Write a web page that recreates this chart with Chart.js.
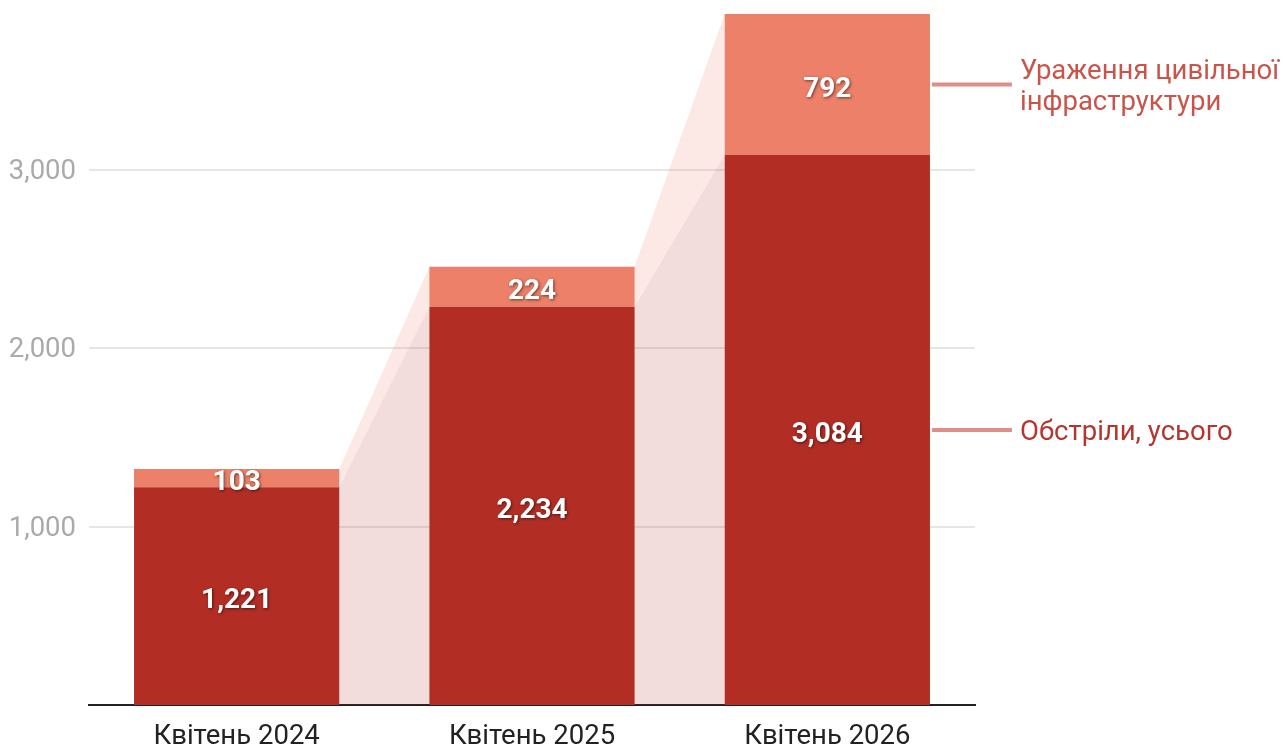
<!DOCTYPE html>
<html>
<head>
<meta charset="utf-8">
<script src="https://cdn.jsdelivr.net/npm/chart.js@4.4.1/dist/chart.umd.min.js"></script>
<style>
  html, body { margin: 0; padding: 0; background: #fff; }
  #wrap { width: 1286px; height: 745px; }
</style>
</head>
<body>
<div id="wrap"><canvas id="chart" width="1286" height="745"></canvas></div>
<script>
// Shelling of a region, April of each year: total vs. civilian infrastructure hits
var CATEGORIES = ['Квітень 2024', 'Квітень 2025', 'Квітень 2026'];
var SHELLING = [1221, 2234, 3084];
var INFRA = [103, 224, 792];
var Y_TICKS = [1000, 2000, 3000];
var SERIES_LABELS = ['Обстріли, усього', ['Ураження цивільної', 'інфраструктури']];

var DARK = '#b22e25';
var SALMON = '#ec8068';
var FONT = 'Roboto, "Noto Sans", sans-serif';

// translucent bands joining neighbouring bars, drawn under the bars
var connectors = {
  id: 'connectors',
  beforeDatasetsDraw: function(chart) {
    var ctx = chart.ctx;
    var y = chart.scales.y;
    var m0 = chart.getDatasetMeta(0).data;
    var m1 = chart.getDatasetMeta(1).data;
    ctx.save();
    for (var i = 0; i < m0.length - 1; i++) {
      var a = m0[i], b = m0[i + 1];
      var ax = a.x + a.width / 2, bx = b.x - b.width / 2;
      var base = y.getPixelForValue(0);
      // lower band
      ctx.fillStyle = 'rgba(178,46,37,0.16)';
      ctx.beginPath();
      ctx.moveTo(ax, base);
      ctx.lineTo(ax, m0[i].y);
      ctx.lineTo(bx, m0[i + 1].y);
      ctx.lineTo(bx, base);
      ctx.closePath();
      ctx.fill();
      // upper band
      ctx.fillStyle = 'rgba(236,128,104,0.18)';
      ctx.beginPath();
      ctx.moveTo(ax, m0[i].y);
      ctx.lineTo(ax, m1[i].y);
      ctx.lineTo(bx, m1[i + 1].y);
      ctx.lineTo(bx, m0[i + 1].y);
      ctx.closePath();
      ctx.fill();
    }
    ctx.restore();
  }
};

// values inside segments + series labels on the right
var labels = {
  id: 'labels',
  afterDatasetsDraw: function(chart) {
    var ctx = chart.ctx;
    ctx.save();
    ctx.font = 'bold 28px ' + FONT;
    ctx.textAlign = 'center';
    ctx.textBaseline = 'middle';
    ctx.fillStyle = '#fff';
    ctx.shadowColor = 'rgba(0,0,0,0.55)';
    ctx.shadowBlur = 3;
    ctx.shadowOffsetX = 1;
    ctx.shadowOffsetY = 1;
    chart.data.datasets.forEach(function(ds, di) {
      chart.getDatasetMeta(di).data.forEach(function(bar, i) {
        var mid = (bar.y + bar.base) / 2;
        ctx.fillText(ds.data[i].toLocaleString('en-US'), bar.x, mid + 5);
      });
    });
    ctx.restore();

    var last = CATEGORIES.length - 1;
    ctx.save();
    ctx.font = '27.5px ' + FONT;
    ctx.textBaseline = 'middle';
    ctx.textAlign = 'left';
    [0, 1].forEach(function(di) {
      var bar = chart.getDatasetMeta(di).data[last];
      var x0 = bar.x + bar.width / 2 + 2;
      var mid = (bar.y + bar.base) / 2;
      ctx.strokeStyle = '#de8f87';
      ctx.lineWidth = 4;
      ctx.beginPath();
      ctx.moveTo(x0, mid);
      ctx.lineTo(x0 + 80, mid);
      ctx.stroke();
      ctx.fillStyle = di === 0 ? '#b5362e' : '#c9554a';
      var lines = [].concat(SERIES_LABELS[di]);
      var lh = 31;
      lines.forEach(function(t, k) {
        ctx.fillText(t, x0 + 88, mid + 3 + (k - (lines.length - 1) / 2) * lh);
      });
    });
    ctx.restore();
  }
};

new Chart(document.getElementById('chart'), {
  type: 'bar',
  data: {
    labels: CATEGORIES,
    datasets: [
      { label: 'Обстріли, усього', data: SHELLING, backgroundColor: DARK, stack: 's' },
      { label: 'Ураження цивільної інфраструктури', data: INFRA, backgroundColor: SALMON, stack: 's' }
    ]
  },
  options: {
    responsive: false,
    animation: false,
    layout: { padding: { top: 0, right: 311, bottom: 0, left: 0 } },
    datasets: { bar: { categoryPercentage: 1, barPercentage: 0.695, borderWidth: 0 } },
    plugins: { legend: { display: false }, tooltip: { enabled: false } },
    scales: {
      x: {
        stacked: true,
        grid: { display: false },
        border: { display: true, color: '#222', width: 2 },
        ticks: { color: '#222', font: { family: FONT, size: 27.5 }, padding: 8 },
        afterFit: function(s) { s.height = 40; }
      },
      y: {
        stacked: true,
        min: 0,
        max: 3954,
        afterBuildTicks: function(s) { s.ticks = Y_TICKS.map(function(v) { return { value: v }; }); },
        ticks: {
          color: '#aaa',
          font: { family: FONT, size: 27.5 },
          padding: 13,
          labelOffset: 2,
          callback: function(v) { return v.toLocaleString('en-US'); }
        },
        grid: { color: '#e6e6e6', lineWidth: 2, drawTicks: false },
        border: { display: false },
        afterFit: function(s) { s.width = 89; s.paddingTop = 0; s.paddingBottom = 0; }
      }
    }
  },
  plugins: [connectors, labels]
});
</script>
</body>
</html>
